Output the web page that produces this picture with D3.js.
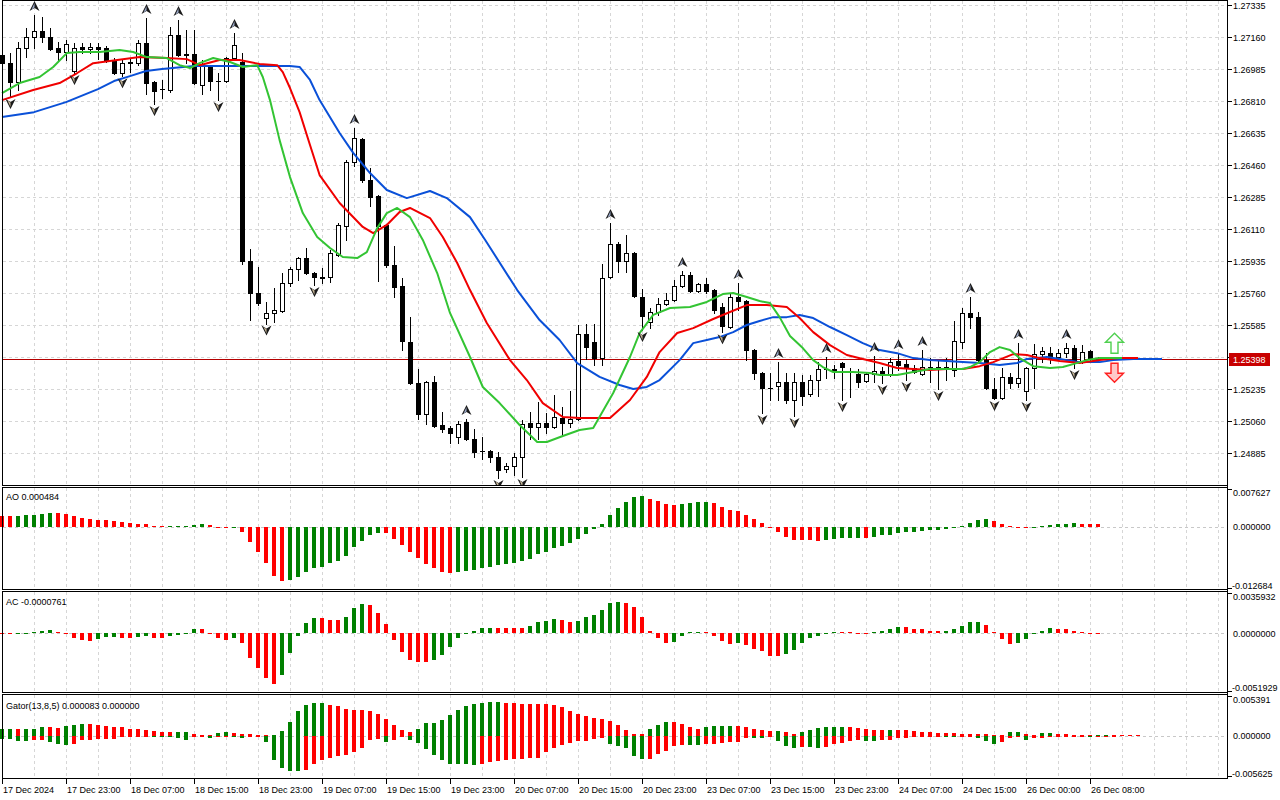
<!DOCTYPE html>
<html><head><meta charset="utf-8">
<script src="https://cdn.jsdelivr.net/npm/d3@7"></script>
<style>
html,body{margin:0;padding:0;background:#fff;overflow:hidden;}
svg{display:block;}
text{font-family:"Liberation Sans",Arial,sans-serif;font-size:9px;fill:#000;}
</style></head><body>
<svg id="chart" width="1280" height="800"></svg>
<script>
// ---------- DATA ----------
const opens=[1.27061,1.27017,1.26914,1.27100,1.27160,1.27193,1.27160,1.27100,1.27078,1.26974,
1.27105,1.27094,1.27105,1.27100,1.27034,1.26963,1.27017,1.27017,1.27127,1.26914,
1.26875,1.26870,1.27171,1.27061,1.27067,1.26897,1.26996,1.26919,1.26919,1.27045,
1.27023,1.25935,1.25760,1.25621,1.25651,1.25661,1.25815,1.25891,1.25951,1.25869,
1.25847,1.25847,1.25968,1.26126,1.26476,1.26602,1.26378,1.26290,1.26132,1.25913,
1.25798,1.25492,1.25268,1.25098,1.25273,1.25038,1.25022,1.24973,1.25054,1.24962,
1.24896,1.24896,1.24863,1.24798,1.24814,1.24863,1.25049,1.25027,1.25049,1.25027,
1.25076,1.25049,1.25071,1.25535,1.25492,1.25404,1.25847,1.26028,1.25935,1.25979,
1.25738,1.25601,1.25656,1.25700,1.25721,1.25798,1.25858,1.25771,1.25809,1.25776,
1.25683,1.25574,1.25738,1.25716,1.25448,1.25322,1.25240,1.25251,1.25273,1.25175,
1.25273,1.25207,1.25284,1.25344,1.25344,1.25377,1.25333,1.25317,1.25278,1.25317,
1.25333,1.25311,1.25388,1.25371,1.25350,1.25317,1.25355,1.25344,1.25355,1.25339,
1.25492,1.25651,1.25628,1.25393,1.25235,1.25186,1.25300,1.25268,1.25224,1.25350,
1.25426,1.25431,1.25410,1.25431,1.25459,1.25382,1.25442,1.25404];
const highs=[1.27089,1.27072,1.27132,1.27209,1.27280,1.27269,1.27209,1.27132,1.27143,1.27127,
1.27127,1.27127,1.27127,1.27110,1.27045,1.27039,1.27045,1.27143,1.27264,1.26919,
1.26925,1.27214,1.27253,1.27198,1.27198,1.27034,1.27006,1.26963,1.27050,1.27182,
1.27072,1.26000,1.25902,1.25712,1.25787,1.25869,1.25902,1.25957,1.26006,1.25875,
1.25897,1.25995,1.26143,1.26487,1.26662,1.26607,1.26443,1.26296,1.26137,1.26017,
1.25842,1.25628,1.25344,1.25278,1.25306,1.25109,1.25033,1.25060,1.25071,1.25016,
1.24973,1.24901,1.24890,1.24830,1.24885,1.25065,1.25109,1.25164,1.25104,1.25202,
1.25137,1.25224,1.25585,1.25590,1.25590,1.25918,1.26143,1.26039,1.26077,1.25984,
1.25782,1.25678,1.25732,1.25760,1.25831,1.25880,1.25875,1.25815,1.25842,1.25782,
1.25705,1.25754,1.25815,1.25721,1.25453,1.25328,1.25322,1.25382,1.25322,1.25322,
1.25311,1.25311,1.25382,1.25410,1.25366,1.25382,1.25350,1.25344,1.25322,1.25415,
1.25355,1.25404,1.25431,1.25393,1.25366,1.25448,1.25404,1.25393,1.25404,1.25607,
1.25678,1.25738,1.25656,1.25431,1.25295,1.25350,1.25322,1.25486,1.25355,1.25481,
1.25464,1.25464,1.25453,1.25486,1.25475,1.25475,1.25448,1.25410];
const lows=[1.27012,1.26832,1.26870,1.27050,1.27100,1.27132,1.27089,1.27034,1.27034,1.26963,
1.27072,1.27072,1.27039,1.27023,1.26957,1.26946,1.26968,1.27006,1.26848,1.26793,
1.26826,1.26859,1.27056,1.27017,1.26903,1.26848,1.26870,1.26815,1.26914,1.27034,
1.25918,1.25612,1.25694,1.25593,1.25601,1.25658,1.25798,1.25831,1.25864,1.25804,
1.25815,1.25820,1.25962,1.26050,1.26454,1.26367,1.26235,1.25826,1.25902,1.25738,
1.25448,1.25262,1.25071,1.25043,1.25027,1.25000,1.24940,1.24940,1.24956,1.24863,
1.24852,1.24836,1.24748,1.24781,1.24765,1.24754,1.24962,1.24962,1.24995,1.25022,
1.24978,1.25027,1.25065,1.25399,1.25366,1.25366,1.25842,1.25875,1.25875,1.25738,
1.25557,1.25568,1.25640,1.25694,1.25716,1.25793,1.25765,1.25765,1.25760,1.25651,
1.25546,1.25568,1.25667,1.25393,1.25290,1.25104,1.25175,1.25175,1.25158,1.25087,
1.25147,1.25197,1.25197,1.25295,1.25295,1.25175,1.25191,1.25246,1.25273,1.25273,
1.25268,1.25306,1.25339,1.25284,1.25322,1.25311,1.25273,1.25235,1.25284,1.25306,
1.25459,1.25568,1.25388,1.25235,1.25180,1.25183,1.25240,1.25246,1.25175,1.25240,
1.25382,1.25377,1.25393,1.25410,1.25350,1.25377,1.25393,1.25388];
const closes=[1.27017,1.26914,1.27100,1.27160,1.27193,1.27160,1.27094,1.27078,1.27121,1.27100,
1.27094,1.27105,1.27094,1.27034,1.26963,1.27017,1.27023,1.27127,1.26908,1.26864,
1.26873,1.27171,1.27061,1.27067,1.26908,1.27006,1.26919,1.26917,1.27045,1.27116,
1.25935,1.25760,1.25705,1.25651,1.25667,1.25815,1.25891,1.25951,1.25869,1.25847,
1.25842,1.25979,1.26132,1.26476,1.26607,1.26378,1.26285,1.26126,1.25913,1.25793,
1.25497,1.25268,1.25098,1.25273,1.25033,1.25016,1.24995,1.25043,1.24960,1.24890,
1.24894,1.24863,1.24792,1.24814,1.24863,1.25043,1.25027,1.25049,1.25027,1.25082,
1.25049,1.25071,1.25535,1.25464,1.25404,1.25842,1.26028,1.25935,1.25979,1.25742,
1.25634,1.25656,1.25700,1.25721,1.25798,1.25858,1.25771,1.25809,1.25771,1.25667,
1.25579,1.25738,1.25716,1.25448,1.25322,1.25240,1.25238,1.25273,1.25175,1.25273,
1.25197,1.25284,1.25344,1.25342,1.25339,1.25355,1.25335,1.25273,1.25317,1.25333,
1.25311,1.25382,1.25366,1.25350,1.25328,1.25355,1.25353,1.25355,1.25344,1.25497,
1.25651,1.25628,1.25393,1.25238,1.25186,1.25300,1.25268,1.25295,1.25350,1.25426,
1.25442,1.25404,1.25431,1.25459,1.25382,1.25437,1.25404,1.25398];

const fractalUpBars=[4,18,22,29,44,58,76,85,92,97,103,109,112,115,121,127,133];
const fractalDownBars=[1,9,15,19,27,33,39,62,65,80,90,95,99,105,110,113,117,124,128,134];

// Alligator lines as [bar, price]
const jaw=[[0,1.26722],[4,1.26749],[8,1.26804],[12,1.26875],[14,1.26919],[16,1.26946],[18,1.26974],[20,1.26985],[24,1.27001],[28,1.27001],[32,1.27001],[36,1.27001],[37.2,1.26996],[38.5,1.26925],[39.7,1.26815],[42.2,1.26635],[43.9,1.26526],[46,1.26416],[48.1,1.26323],[50.6,1.26279],[53.5,1.26318],[55.6,1.26279],[58.5,1.26175],[60.4,1.26050],[64.4,1.25776],[67.2,1.25612],[69.7,1.25503],[71.9,1.25377],[74.7,1.25301],[77.2,1.25257],[78.9,1.25235],[80.6,1.25246],[82.2,1.25284],[84.7,1.25393],[86.4,1.25486],[88.1,1.25503],[89.7,1.25519],[91.4,1.25546],[93.1,1.25585],[94.7,1.25607],[96.4,1.25628],[98.1,1.25628],[99.7,1.25640],[101.4,1.25623],[103.5,1.25574],[105.6,1.25530],[107.6,1.25486],[109.7,1.25448],[111.9,1.25431],[113.9,1.25404],[116,1.25393],[118.1,1.25388],[120.1,1.25382],[122.2,1.25377],[124.7,1.25366],[126.9,1.25377],[128.1,1.25399],[130.6,1.25410],[132.2,1.25399],[134.7,1.25382],[137.2,1.25382],[138.9,1.25393],[141.4,1.25399],[145,1.25399]];
const teeth=[[0,1.26815],[3.9,1.26870],[7.2,1.26908],[9.4,1.26963],[11.4,1.27017],[14.4,1.27034],[17.2,1.27050],[20.6,1.27045],[23.1,1.27039],[24.7,1.27006],[27.2,1.27034],[29.7,1.27034],[32.2,1.27012],[34.4,1.27006],[35.1,1.26968],[36,1.26881],[37.2,1.26749],[38.5,1.26569],[39.7,1.26405],[42.2,1.26252],[45.1,1.26121],[46.4,1.26088],[48.1,1.26132],[49.7,1.26203],[51,1.26225],[53.5,1.26170],[55.1,1.26066],[56.9,1.25924],[58.5,1.25776],[60.6,1.25596],[63.5,1.25393],[65.6,1.25284],[67.6,1.25158],[70.1,1.25082],[72.2,1.25076],[76,1.25076],[78.5,1.25175],[80.6,1.25301],[82.2,1.25437],[84.4,1.25541],[86.4,1.25568],[88.9,1.25618],[91,1.25656],[93.1,1.25694],[95.6,1.25694],[98.1,1.25683],[99.7,1.25623],[101.4,1.25546],[103.5,1.25475],[105.6,1.25421],[107.6,1.25399],[109.7,1.25377],[111.9,1.25350],[113.9,1.25344],[116,1.25339],[118.1,1.25344],[120.1,1.25344],[122.2,1.25360],[123.9,1.25382],[126.4,1.25426],[128.1,1.25421],[129.7,1.25404],[132.2,1.25388],[134.7,1.25377],[137.2,1.25393],[139.7,1.25404],[142,1.25404]];
const lips=[[0,1.26853],[2.2,1.26908],[4.7,1.26941],[6.4,1.26996],[8.1,1.27072],[9.7,1.27078],[12.2,1.27078],[14.7,1.27089],[16.4,1.27078],[18.1,1.27050],[20.6,1.27045],[22.2,1.27006],[23.5,1.26990],[24.7,1.27017],[26.4,1.27045],[28.5,1.27023],[30.1,1.26996],[31.9,1.27006],[32.6,1.26941],[33.5,1.26815],[34.7,1.26596],[36,1.26394],[37.6,1.26197],[39.4,1.26066],[41,1.26006],[42.6,1.25957],[44.4,1.25951],[45.6,1.25984],[46.9,1.26115],[48.1,1.26197],[49.4,1.26225],[51,1.26175],[52.6,1.26050],[54.4,1.25869],[56,1.25651],[58.5,1.25410],[60.1,1.25246],[62.2,1.25158],[64.7,1.25038],[66.9,1.24945],[68.1,1.24945],[70.1,1.24978],[72.2,1.25011],[73.9,1.25022],[76.4,1.25213],[78.5,1.25410],[79.7,1.25541],[81.4,1.25640],[83.5,1.25678],[86,1.25683],[88.1,1.25711],[90.1,1.25754],[91.4,1.25760],[93.1,1.25738],[94.7,1.25716],[96,1.25705],[97.2,1.25628],[98.5,1.25525],[100.1,1.25459],[101.4,1.25393],[102.6,1.25355],[103.9,1.25328],[106.4,1.25328],[108.5,1.25322],[109.7,1.25311],[111.9,1.25311],[113.9,1.25328],[116,1.25344],[120.1,1.25344],[121,1.25355],[122.2,1.25382],[123.5,1.25437],[124.7,1.25464],[126,1.25448],[127.2,1.25404],[128.9,1.25360],[131,1.25350],[132.6,1.25355],[133.9,1.25371],[135.6,1.25393],[137.2,1.25404],[140,1.25404]];

const aoValues=[0.00223,0.00217,0.00219,0.00238,0.00244,0.00258,0.00278,0.00276,0.00258,0.00210,
0.00168,0.00148,0.00128,0.00126,0.00116,0.00095,0.00063,0.00061,0.00059,0.00020,
0.00006,0.00008,0.00010,0.00014,0.00041,0.00061,0.00041,-0.00006,-0.00035,-0.00030,
-0.00116,-0.00319,-0.00522,-0.00745,-0.01009,-0.01110,-0.01076,-0.01015,-0.00928,-0.00847,
-0.00812,-0.00745,-0.00690,-0.00589,-0.00420,-0.00284,-0.00162,-0.00136,-0.00138,-0.00244,
-0.00371,-0.00508,-0.00629,-0.00757,-0.00847,-0.00914,-0.00934,-0.00914,-0.00899,-0.00879,
-0.00832,-0.00812,-0.00777,-0.00757,-0.00731,-0.00690,-0.00656,-0.00562,-0.00508,-0.00426,
-0.00386,-0.00339,-0.00258,-0.00156,-0.00055,0.00055,0.00238,0.00386,0.00508,0.00603,
0.00623,0.00562,0.00528,0.00461,0.00441,0.00467,0.00483,0.00489,0.00493,0.00473,
0.00406,0.00339,0.00319,0.00238,0.00156,0.00067,-0.00014,-0.00116,-0.00207,-0.00264,
-0.00266,-0.00268,-0.00290,-0.00264,-0.00244,-0.00240,-0.00235,-0.00229,-0.00231,-0.00209,
-0.00177,-0.00173,-0.00122,-0.00108,-0.00106,-0.00087,-0.00075,-0.00061,-0.00041,-0.00026,
0.00020,0.00081,0.00136,0.00148,0.00108,0.00061,0.00004,-0.00026,-0.00028,-0.00004,
0.00010,0.00041,0.00043,0.00061,0.00063,0.00060,0.00056,0.000484];
const acValues=[-0.000027,-0.000044,-0.000018,0.000044,0.000151,0.000240,0.000329,0.000151,-0.000062,-0.000418,
-0.000596,-0.000711,-0.000533,-0.000356,-0.000347,-0.000418,-0.000427,-0.000329,-0.000240,-0.000418,
-0.000427,-0.000204,-0.000151,-0.000027,0.000356,0.000347,-0.000053,-0.000418,-0.000560,-0.000418,
-0.000862,-0.00216,-0.00308,-0.00397,-0.00447,-0.00367,-0.00175,-0.000240,0.000951,0.00136,
0.00135,0.00116,0.00115,0.00145,0.00225,0.00264,0.00255,0.00180,0.000800,-0.000578,
-0.00169,-0.00234,-0.00252,-0.00258,-0.00234,-0.00189,-0.00124,-0.000445,0.000062,0.000240,
0.000445,0.000498,0.000489,0.000480,0.000471,0.000462,0.000685,0.000978,0.00113,0.00127,
0.00118,0.00104,0.00113,0.00148,0.00166,0.00211,0.00269,0.00282,0.00269,0.00237,
0.00148,0.000204,-0.000445,-0.000889,-0.000800,-0.000267,0.000089,0.000151,0.000089,-0.000204,
-0.000711,-0.000951,-0.000889,-0.00104,-0.00140,-0.00160,-0.00198,-0.00203,-0.00187,-0.00151,
-0.000862,-0.000418,-0.000240,-0.000089,0.000116,0.000107,0.000089,0.000062,-0.000027,0.000089,
0.000240,0.000418,0.000533,0.000525,0.000356,0.000347,0.000240,0.000178,0.000187,0.000356,
0.000649,0.00100,0.00101,0.000711,0.000089,-0.000507,-0.000978,-0.000862,-0.000533,-0.000062,
0.000240,0.000445,0.000356,0.000347,0.000204,0.000089,-0.0000089,-0.0000761];
const gatorUpper=[0.00095,0.00096,0.00094,0.00095,0.00097,0.00113,0.00112,0.00110,0.00126,0.00140,
0.00163,0.00154,0.00140,0.00126,0.00113,0.00112,0.00095,0.00094,0.00082,0.00068,
0.00054,0.00045,0.00046,0.00054,0.00027,0.00014,0.00004,0.00031,0.00054,0.00041,
0.00027,0.00018,0.00014,0.00003,0.00014,0.00058,0.00186,0.00340,0.00422,0.00445,
0.00446,0.00422,0.00398,0.00367,0.00354,0.00352,0.00340,0.00295,0.00231,0.00140,
0.00078,0.00050,0.00091,0.00167,0.00177,0.00214,0.00282,0.00350,0.00408,0.00426,
0.00439,0.00453,0.00458,0.00445,0.00443,0.00435,0.00431,0.00430,0.00428,0.00418,
0.00385,0.00336,0.00290,0.00268,0.00245,0.00222,0.00200,0.00146,0.00078,0.00027,
0.00018,0.00091,0.00146,0.00181,0.00180,0.00159,0.00113,0.00095,0.00118,0.00132,
0.00133,0.00136,0.00132,0.00113,0.00091,0.00078,0.00064,0.00065,0.00050,0.00018,
0.00054,0.00078,0.00099,0.00113,0.00122,0.00124,0.00118,0.00099,0.00086,0.00078,
0.00076,0.00077,0.00076,0.00075,0.00064,0.00054,0.00050,0.00041,0.00037,0.00035,
0.00027,0.00023,0.00022,0.00018,0.00010,0.00008,0.00050,0.00052,0.00027,0.00010,
0.00031,0.00033,0.00023,0.00022,0.00010,0.00008,0.00004,0.00010,0.00014,0.00011,
0.00010,0.00009,0.000083];
const gatorLower=[-0.00041,-0.00042,-0.00078,-0.00079,-0.00064,-0.00061,-0.00091,-0.00113,-0.00132,-0.00109,
-0.00064,-0.00063,-0.00045,-0.00044,-0.00042,-0.00023,-0.00018,-0.00010,-0.00004,-0.00014,
-0.00015,-0.00018,-0.00031,-0.00064,-0.00018,-0.00014,-0.00037,-0.00014,-0.00004,-0.00023,
-0.00037,-0.00014,-0.00004,-0.00091,-0.00336,-0.00445,-0.00476,-0.00486,-0.00462,-0.00381,
-0.00336,-0.00303,-0.00282,-0.00258,-0.00227,-0.00167,-0.00064,-0.00041,-0.00091,-0.00064,
-0.00014,-0.00058,-0.00095,-0.00181,-0.00262,-0.00330,-0.00385,-0.00386,-0.00388,-0.00398,
-0.00385,-0.00354,-0.00344,-0.00330,-0.00317,-0.00316,-0.00309,-0.00299,-0.00218,-0.00163,
-0.00126,-0.00095,-0.00072,-0.00068,-0.00045,-0.00037,-0.00113,-0.00136,-0.00173,-0.00272,
-0.00317,-0.00316,-0.00254,-0.00204,-0.00136,-0.00126,-0.00128,-0.00129,-0.00118,-0.00113,
-0.00105,-0.00091,-0.00082,-0.00027,-0.00037,-0.00038,-0.00004,-0.00072,-0.00136,-0.00163,
-0.00150,-0.00151,-0.00163,-0.00150,-0.00118,-0.00105,-0.00072,-0.00058,-0.00072,-0.00073,
-0.00058,-0.00057,-0.00027,-0.00026,-0.00024,-0.00014,-0.00012,-0.00001,-0.00014,-0.00015,
-0.00014,-0.00007,-0.00027,-0.00072,-0.00113,-0.00082,-0.00027,-0.00014,-0.00058,-0.00037,
-0.00027,-0.00014,-0.00012,-0.00011,-0.00010,-0.00004,-0.00014,-0.00012,-0.00005,-0.00001,
0];

const priceTicks=[1.27335,1.27160,1.26985,1.26810,1.26635,1.26460,1.26285,1.26110,1.25935,1.25760,1.25585,1.25410,1.25235,1.25060,1.24885];
const timeLabels=["17 Dec 2024","17 Dec 23:00","18 Dec 07:00","18 Dec 15:00","18 Dec 23:00","19 Dec 07:00","19 Dec 15:00","19 Dec 23:00","20 Dec 07:00","20 Dec 15:00","20 Dec 23:00","23 Dec 07:00","23 Dec 15:00","23 Dec 23:00","24 Dec 07:00","24 Dec 15:00","26 Dec 00:00","26 Dec 08:00"];
const aoRange=[-0.012684,0.007627];
const acRange=[-0.0051929,0.0035932];
const gatorRange=[-0.005625,0.005391];
const panelTitles={ao:"AO 0.000484",ac:"AC -0.0000761",gator:"Gator(13,8,5) 0.000083 0.000000"};
const signalBar=139;

// ---------- LAYOUT ----------
const svg=d3.select('#chart');
const AXIS_X=1227.5, LEFT_X=2.5;
const GREEN='#008000', RED='#ff0000', GRID='#d6d6d6';
const x=d3.scaleLinear().domain([0,152]).range([2,1218]);
const yMain=d3.scaleLinear().domain([1.24885,1.27335]).range([453,5]);
const yAO=d3.scaleLinear().domain(aoRange).range([589,489]);
const yAC=d3.scaleLinear().domain(acRange).range([691.7,592.9]);
const yG=d3.scaleLinear().domain(gatorRange).range([777,696]);
const panels=[{top:0.5,bottom:485.5},{top:487.5,bottom:589.5},{top:591.5,bottom:692.5},{top:694.5,bottom:778.5}];
const px=v=>Math.round(v)+0.5;

svg.append('rect').attr('width',1280).attr('height',800).attr('fill','#fff');
const grid=svg.append('g').attr('shape-rendering','crispEdges').attr('stroke',GRID).attr('stroke-dasharray','3,3');
// vertical grid lines every 4 bars
const vgBars=d3.range(4,153,4);
panels.forEach(p=>{
  grid.selectAll(null).data(vgBars).enter().append('line')
    .attr('x1',b=>px(x(b))).attr('x2',b=>px(x(b))).attr('y1',p.top).attr('y2',p.bottom);
});
// horizontal grid in main panel
grid.selectAll(null).data(priceTicks).enter().append('line')
  .attr('x1',LEFT_X).attr('x2',AXIS_X).attr('y1',d=>px(yMain(d))).attr('y2',d=>px(yMain(d)));
// zero lines of sub panels
[yAO,yAC,yG].forEach(s=>{
  grid.append('line').attr('x1',LEFT_X).attr('x2',AXIS_X).attr('y1',px(s(0))).attr('y2',px(s(0))).attr('stroke','#c8c8c8');
});

// ---------- MAIN PANEL ----------
svg.append('clipPath').attr('id','clipMain').append('rect').attr('x',0).attr('y',0).attr('width',AXIS_X).attr('height',485);
const main=svg.append('g').attr('clip-path','url(#clipMain)');
// current price line
const lastClose=closes[closes.length-1];
main.append('line').attr('shape-rendering','crispEdges').attr('x1',LEFT_X).attr('x2',AXIS_X)
  .attr('y1',px(yMain(lastClose))).attr('y2',px(yMain(lastClose))).attr('stroke','#b40000');

const candles=main.append('g').attr('shape-rendering','crispEdges');
closes.forEach((c,i)=>{
  const xc=Math.round(x(i));
  const o=opens[i];
  candles.append('line').attr('x1',xc+0.5).attr('x2',xc+0.5)
    .attr('y1',Math.round(yMain(highs[i]))).attr('y2',Math.round(yMain(lows[i]))+1).attr('stroke','#000');
  const yt=Math.round(yMain(Math.max(o,c))), yb=Math.round(yMain(Math.min(o,c)));
  if(yb-yt<1){
    candles.append('line').attr('x1',xc-2).attr('x2',xc+3).attr('y1',yt+0.5).attr('y2',yt+0.5).attr('stroke','#000');
  } else {
    candles.append('rect').attr('x',xc-1.5).attr('y',yt+0.5).attr('width',4).attr('height',yb-yt)
      .attr('fill',c>=o?'#fff':'#000').attr('stroke','#000');
  }
});

const line=d3.line().x(d=>x(d[0])).y(d=>yMain(d[1]));
[[jaw,'#0a50d8'],[teeth,'#f00000'],[lips,'#33c433']].forEach(([data,col])=>{
  main.append('path').datum(data).attr('d',line).attr('fill','none').attr('stroke',col)
    .attr('stroke-width',2).attr('stroke-linejoin','round');
});

// fractals
const fr=main.append('g');
fractalUpBars.forEach(b=>{
  fr.append('path').attr('d','M0,-5L5,5L0,2L-5,5Z').attr('fill','#1a1a1a')
    .attr('transform',`translate(${Math.round(x(b))+0.5},${yMain(highs[b])-9})`);
  fr.append('path').attr('d','M0,-3L-3,3.5L0,1.5Z').attr('fill','#9aa8c8')
    .attr('transform',`translate(${Math.round(x(b))+0.5},${yMain(highs[b])-9})`);
});
fractalDownBars.forEach(b=>{
  fr.append('path').attr('d','M0,5L5,-5L0,-2L-5,-5Z').attr('fill','#1a1a1a')
    .attr('transform',`translate(${Math.round(x(b))+0.5},${yMain(lows[b])+7})`);
  fr.append('path').attr('d','M0,3L-3,-3.5L0,-1.5Z').attr('fill','#c8b89a')
    .attr('transform',`translate(${Math.round(x(b))+0.5},${yMain(lows[b])+7})`);
});

// signal arrows
const sx=Math.round(x(signalBar))+0.5, sy=yMain(lastClose);
svg.append('path').attr('d',`M${sx},${sy-26}L${sx+9},${sy-17}L${sx+3.5},${sy-17}L${sx+3.5},${sy-6}L${sx-3.5},${sy-6}L${sx-3.5},${sy-17}L${sx-9},${sy-17}Z`)
  .attr('fill','#fff').attr('stroke','#4fd04f').attr('stroke-width',1.4);
svg.append('path').attr('d',`M${sx},${sy+23}L${sx+9},${sy+14}L${sx+3.5},${sy+14}L${sx+3.5},${sy+4}L${sx-3.5},${sy+4}L${sx-3.5},${sy+14}L${sx-9},${sy+14}Z`)
  .attr('fill','#ffc8c8').attr('stroke','#ff2020').attr('stroke-width',1.4);

// ---------- HISTOGRAM PANELS ----------
function drawHist(vals,scale,firstColor,useAbs){
  const g=svg.append('g').attr('shape-rendering','crispEdges');
  let prevCol=firstColor;
  vals.forEach((v,i)=>{
    let col=firstColor;
    if(i>0){
      const a=useAbs?Math.abs(v):v, b=useAbs?Math.abs(vals[i-1]):vals[i-1];
      col=a>b?GREEN:(a<b?RED:prevCol);
    }
    prevCol=col;
    if(v===0) return;
    const y0=scale(0), y1=scale(v);
    const top=Math.round(Math.min(y0,y1));
    const h=Math.max(1,Math.round(Math.max(y0,y1))-top);
    g.append('rect').attr('x',Math.round(x(i))-2).attr('y',top).attr('width',4).attr('height',h).attr('fill',col);
  });
}
drawHist(aoValues,yAO,RED,false);
drawHist(acValues,yAC,RED,false);
drawHist(gatorUpper,yG,GREEN,true);
drawHist(gatorLower,yG,GREEN,true);

// ---------- FRAMES & AXES ----------
const frame=svg.append('g').attr('shape-rendering','crispEdges').attr('stroke','#000').attr('fill','none');
panels.forEach(p=>{
  frame.append('rect').attr('x',LEFT_X).attr('y',p.top).attr('width',AXIS_X-LEFT_X).attr('height',p.bottom-p.top);
});
frame.append('line').attr('x1',AXIS_X).attr('x2',AXIS_X).attr('y1',0).attr('y2',778.5);

// price axis
const axG=svg.append('g');
priceTicks.forEach(p=>{
  const yy=px(yMain(p));
  axG.append('line').attr('shape-rendering','crispEdges').attr('x1',AXIS_X).attr('x2',1232).attr('y1',yy).attr('y2',yy).attr('stroke','#000');
  axG.append('text').attr('x',1233).attr('y',yy+3.5).text(p.toFixed(5));
});
// current price tag
const tagY=px(yMain(lastClose));
axG.append('rect').attr('x',1229).attr('y',tagY-6.5).attr('width',41).attr('height',13).attr('fill','#c80000');
axG.append('text').attr('x',1233).attr('y',tagY+3.5).attr('fill','#fff').style('fill','#fff').text(lastClose.toFixed(5));

// sub-panel axes
function subAxis(scale,range,zeroLabel,maxLabel,minLabel){
  const top=scale(range[1]), bot=scale(range[0]), zero=scale(0);
  axG.append('line').attr('shape-rendering','crispEdges').attr('x1',AXIS_X).attr('x2',1232).attr('y1',px(top)).attr('y2',px(top)).attr('stroke','#000');
  axG.append('line').attr('shape-rendering','crispEdges').attr('x1',AXIS_X).attr('x2',1232).attr('y1',px(bot)-1).attr('y2',px(bot)-1).attr('stroke','#000');
  axG.append('text').attr('x',1233).attr('y',top+7).text(maxLabel);
  axG.append('text').attr('x',1233).attr('y',zero+3.5).text(zeroLabel);
  axG.append('text').attr('x',1232).attr('y',bot-0.5).text(minLabel);
}
subAxis(yAO,aoRange,(0).toFixed(6),aoRange[1].toFixed(6),aoRange[0].toFixed(6));
subAxis(yAC,acRange,(0).toFixed(7),acRange[1].toFixed(7),acRange[0].toFixed(7));
subAxis(yG,gatorRange,(0).toFixed(6),gatorRange[1].toFixed(6),gatorRange[0].toFixed(6));

// panel titles
svg.append('text').attr('x',6).attr('y',500).text(panelTitles.ao);
svg.append('text').attr('x',6).attr('y',605).text(panelTitles.ac);
svg.append('text').attr('x',6).attr('y',708.5).text(panelTitles.gator);

// time axis
timeLabels.forEach((t,k)=>{
  const xb=Math.round(x(k*8))+0.5;
  svg.append('line').attr('shape-rendering','crispEdges').attr('x1',xb).attr('x2',xb).attr('y1',778.5).attr('y2',784).attr('stroke','#000');
  svg.append('text').attr('x',xb+0.5).attr('y',792.5).text(t);
});
</script>
</body></html>
